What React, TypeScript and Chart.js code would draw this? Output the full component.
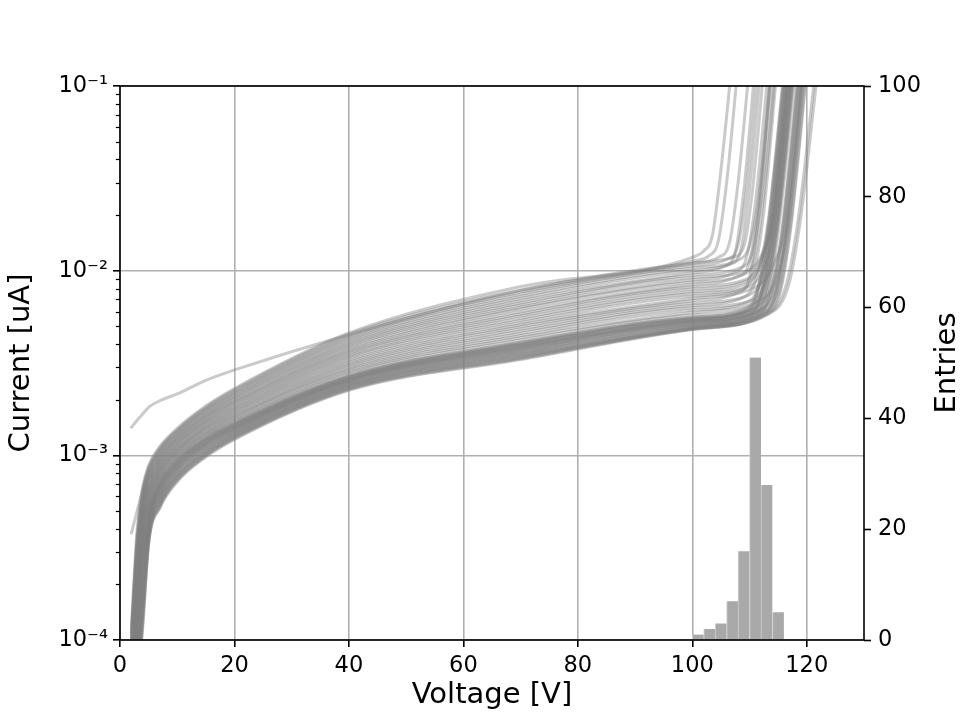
import React, { useEffect, useRef } from 'react';
import { Chart, registerables } from 'chart.js';

Chart.register(...registerables);

// Voltage grid (V) for the low-voltage part of every I-V curve
const VOLTAGES_LOW = [2, 3, 4, 5, 7, 10, 15, 20, 40, 70, 100];

// Leakage current in nA at VOLTAGES_LOW, one row per sensor
const CURRENTS_NA = [
  [0.12, 0.40, 0.68, 0.88, 1.12, 1.40, 1.85, 2.30, 4.6, 8.2, 11.8],
  [0.38, 0.50, 0.662, 0.861, 1.10, 1.376, 1.82, 2.265, 4.51, 7.87, 11.28],
  [0.112, 0.368, 0.646, 0.842, 1.082, 1.357, 1.79, 2.22, 4.41, 7.65, 10.94],
  [0.108, 0.353, 0.628, 0.822, 1.063, 1.336, 1.766, 2.19, 4.32, 7.46, 10.62],
  [0.104, 0.338, 0.613, 0.804, 1.043, 1.315, 1.738, 2.15, 4.23, 7.26, 10.33],
  [0.101, 0.324, 0.596, 0.785, 1.027, 1.293, 1.71, 2.11, 4.14, 7.06, 10.03],
  [0.097, 0.311, 0.581, 0.769, 1.008, 1.276, 1.68, 2.08, 4.05, 6.87, 9.73],
  [0.094, 0.298, 0.565, 0.752, 0.989, 1.255, 1.655, 2.04, 3.97, 6.68, 9.46],
  [0.091, 0.286, 0.551, 0.735, 0.973, 1.235, 1.63, 2.01, 3.89, 6.51, 9.19],
  [0.0875, 0.274, 0.536, 0.718, 0.955, 1.218, 1.61, 1.97, 3.80, 6.33, 8.92],
  [0.085, 0.26, 0.52, 0.70, 0.94, 1.20, 1.58, 1.94, 3.72, 6.2, 8.67],
  [0.082, 0.252, 0.508, 0.686, 0.923, 1.18, 1.556, 1.91, 3.64, 5.99, 8.42],
  [0.079, 0.242, 0.495, 0.672, 0.906, 1.161, 1.53, 1.875, 3.57, 5.83, 8.19],
  [0.076, 0.232, 0.482, 0.656, 0.89, 1.145, 1.51, 1.84, 3.49, 5.69, 7.95],
  [0.073, 0.222, 0.469, 0.641, 0.874, 1.127, 1.486, 1.81, 3.42, 5.53, 7.71],
  [0.071, 0.213, 0.457, 0.627, 0.86, 1.109, 1.461, 1.78, 3.35, 5.38, 7.5],
  [0.069, 0.204, 0.445, 0.613, 0.844, 1.091, 1.439, 1.75, 3.27, 5.23, 7.28],
  [0.066, 0.196, 0.433, 0.60, 0.829, 1.075, 1.415, 1.72, 3.20, 5.09, 7.07],
  [0.064, 0.188, 0.422, 0.586, 0.815, 1.058, 1.396, 1.69, 3.13, 4.97, 6.87],
  [0.062, 0.18, 0.41, 0.573, 0.80, 1.041, 1.374, 1.66, 3.07, 4.83, 6.67],
  [0.06, 0.173, 0.40, 0.56, 0.79, 1.03, 1.35, 1.63, 3.0, 4.7, 6.48],
  [0.058, 0.166, 0.389, 0.547, 0.773, 1.011, 1.33, 1.61, 2.94, 4.57, 6.3],
  [0.056, 0.159, 0.379, 0.535, 0.759, 0.995, 1.309, 1.58, 2.88, 4.44, 6.11],
  [0.054, 0.152, 0.369, 0.523, 0.745, 0.979, 1.291, 1.55, 2.82, 4.33, 5.93],
  [0.052, 0.146, 0.359, 0.511, 0.733, 0.965, 1.27, 1.53, 2.76, 4.21, 5.76],
  [0.05, 0.14, 0.35, 0.50, 0.72, 0.95, 1.25, 1.50, 2.7, 4.1, 5.6],
  [0.048, 0.134, 0.335, 0.492, 0.711, 0.94, 1.238, 1.488, 2.68, 4.06, 5.56],
  [0.046, 0.129, 0.321, 0.484, 0.701, 0.929, 1.226, 1.476, 2.66, 4.03, 5.52],
  [0.045, 0.124, 0.308, 0.476, 0.693, 0.919, 1.214, 1.463, 2.64, 3.99, 5.48],
  [0.043, 0.119, 0.295, 0.468, 0.683, 0.909, 1.203, 1.45, 2.62, 3.96, 5.44],
  [0.042, 0.114, 0.28, 0.46, 0.675, 0.90, 1.19, 1.44, 2.6, 3.92, 5.4],
  [0.040, 0.109, 0.271, 0.452, 0.666, 0.889, 1.179, 1.427, 2.58, 3.89, 5.37],
  [0.0387, 0.105, 0.259, 0.445, 0.657, 0.88, 1.168, 1.416, 2.565, 3.86, 5.33],
  [0.0373, 0.101, 0.249, 0.438, 0.649, 0.869, 1.156, 1.404, 2.55, 3.83, 5.3],
  [0.036, 0.097, 0.238, 0.431, 0.641, 0.86, 1.145, 1.392, 2.53, 3.79, 5.26],
  [0.035, 0.093, 0.228, 0.42, 0.63, 0.85, 1.135, 1.38, 2.51, 3.76, 5.22],
  [0.033, 0.088, 0.216, 0.415, 0.62, 0.84, 1.12, 1.37, 2.49, 3.72, 5.18],
  [0.032, 0.084, 0.205, 0.41, 0.61, 0.83, 1.11, 1.35, 2.47, 3.68, 5.13],
  [0.03, 0.08, 0.194, 0.40, 0.60, 0.816, 1.09, 1.34, 2.44, 3.64, 5.08],
  [0.029, 0.075, 0.184, 0.39, 0.59, 0.805, 1.08, 1.325, 2.42, 3.6, 5.04],
  [0.028, 0.072, 0.175, 0.38, 0.58, 0.79, 1.07, 1.31, 2.4, 3.56, 5.0],
  [0.026, 0.068, 0.166, 0.374, 0.574, 0.78, 1.05, 1.30, 2.38, 3.52, 4.96],
  [0.025, 0.065, 0.157, 0.366, 0.564, 0.772, 1.04, 1.284, 2.36, 3.48, 4.91],
  [0.024, 0.061, 0.149, 0.359, 0.555, 0.762, 1.029, 1.27, 2.335, 3.44, 4.87],
  [0.023, 0.058, 0.141, 0.35, 0.546, 0.75, 1.016, 1.26, 2.31, 3.41, 4.85],
  [0.022, 0.055, 0.133, 0.343, 0.537, 0.74, 1.004, 1.245, 2.29, 3.37, 4.83],
  [0.021, 0.052, 0.126, 0.336, 0.528, 0.73, 0.992, 1.232, 2.27, 3.33, 4.81],
  [0.02, 0.05, 0.12, 0.33, 0.52, 0.72, 0.98, 1.22, 2.25, 3.3, 4.8],
  [1.42, 1.55, 1.68, 1.82, 1.98, 2.15, 2.55, 2.9, 4.5, 7.8, 11.0],
];

// Breakdown part of each curve: [voltage V, current nA] pairs above 100 V
const TAILS = [
  [[102, 12.8], [103.5, 15.5], [105, 35], [107, 140]],
  [[103, 12.1], [104.5, 14.3], [106, 30], [108, 130]],
  [[104.5, 11.8], [106.5, 14.2], [108, 30], [110, 130]],
  [[106, 11.5], [108, 13.8], [109.5, 28], [111.5, 130]],
  [[108, 11.4], [110, 13.7], [111.5, 24], [113.8, 125]],
  [[106.5, 10.8], [108.5, 13], [110, 28], [112, 130]],
  [[105.5, 10.5], [107.5, 12.6], [109, 27], [111, 130]],
  [[108.5, 10.4], [110.5, 12.6], [112, 24], [114.3, 125]],
  [[110, 10.1], [112.5, 12.9], [114.2, 19], [117, 120]],
  [[107.5, 9.8], [109.5, 11.9], [111, 23], [113.3, 125]],
  [[108.8, 9.5], [110.8, 11.5], [112.3, 23], [114.6, 125]],
  [[108, 9.3], [110, 11.2], [111.5, 22], [113.8, 125]],
  [[109.5, 9.0], [112, 11.5], [113.8, 18], [116.6, 120]],
  [[109, 8.7], [111, 10.6], [112.5, 21], [114.8, 125]],
  [[109.5, 8.5], [112, 10.8], [114, 18], [116.8, 120]],
  [[110.1, 8.25], [112.6, 10.5], [114.6, 18], [117.4, 120]],
  [[109, 8.0], [111.5, 10.2], [113.5, 18], [116.3, 120]],
  [[112, 8.5], [114.3, 11], [116.2, 17], [119, 120]],
  [[108, 7.6], [110, 9.2], [111.5, 19], [113.8, 125]],
  [[109.8, 7.35], [112.3, 9.3], [114.3, 18], [117.1, 120]],
  [[108.7, 7.1], [111.2, 9.1], [113.2, 18], [116, 120]],
  [[110.4, 6.9], [112.9, 8.8], [114.9, 18], [117.7, 120]],
  [[109.3, 6.7], [111.8, 8.55], [113.8, 18], [116.6, 120]],
  [[112.5, 7.1], [114.8, 9.2], [116.7, 17], [119.5, 120]],
  [[110, 6.35], [112.5, 8.1], [114.5, 18], [117.3, 120]],
  [[108.9, 6.15], [111.4, 7.85], [113.4, 18], [116.2, 120]],
  [[109.7, 6.1], [112.2, 7.8], [114.2, 18], [117, 120]],
  [[110.3, 6.1], [112.8, 7.7], [114.8, 18], [117.6, 120]],
  [[109.2, 6.0], [111.7, 7.7], [113.7, 18], [116.5, 120]],
  [[109.9, 6.0], [112.4, 7.6], [114.4, 18], [117.2, 120]],
  [[108.8, 5.95], [111.3, 7.55], [113.3, 18], [116.1, 120]],
  [[111.6, 6.45], [113.9, 8.3], [115.8, 17], [118.6, 120]],
  [[110.5, 5.85], [113, 7.45], [115, 18], [117.8, 120]],
  [[109.6, 5.85], [112.1, 7.4], [114.1, 18], [116.9, 120]],
  [[110.2, 5.8], [112.7, 7.35], [114.7, 18], [117.5, 120]],
  [[112.3, 6.25], [114.6, 8.1], [116.5, 17], [119.3, 120]],
  [[109.4, 5.7], [111.9, 7.25], [113.9, 18], [116.7, 120]],
  [[111.7, 6.15], [114, 7.95], [115.9, 17], [118.7, 120]],
  [[110.7, 5.6], [113.2, 7.1], [115.2, 18], [118, 120]],
  [[112.6, 6.05], [114.9, 7.8], [116.8, 17], [119.6, 120]],
  [[112, 6.0], [114.3, 7.75], [116.2, 17], [119, 120]],
  [[112.9, 5.95], [115.2, 7.7], [117.1, 17], [119.9, 120]],
  [[111.5, 5.9], [113.8, 7.6], [115.7, 17], [118.5, 120]],
  [[112.4, 5.85], [114.7, 7.55], [116.6, 17], [119.4, 120]],
  [[113, 5.8], [115.3, 7.5], [117.2, 17], [120, 120]],
  [[114, 6.1], [116.5, 8.6], [118.5, 19], [121.5, 120]],
  [[112.2, 5.75], [114.5, 7.45], [116.4, 17], [119.2, 120]],
  [[114.4, 6.1], [116.9, 8.5], [118.9, 19], [121.9, 120]],
  [[107, 11.8], [109, 13.5], [110.5, 27], [112.5, 125]],
];

// Histogram of breakdown voltages (2 V bins)
const HIST_BIN_CENTERS = [101, 103, 105, 107, 109, 111, 113, 115];
const HIST_COUNTS = [1, 2, 3, 7, 16, 51, 28, 5];

// Axis ticks
const X_TICKS = [0, 20, 40, 60, 80, 100, 120];
const Y_MAJOR_TICKS = [1e-4, 1e-3, 1e-2, 1e-1];
const Y_MAJOR_LABELS = ['10⁻⁴', '10⁻³', '10⁻²', '10⁻¹'];
const Y_MINOR_FACTORS = [2, 3, 4, 5, 6, 7, 8, 9];
const ENTRIES_TICKS = [0, 20, 40, 60, 80, 100];

const FONT = '"DejaVu Sans", sans-serif';
const TICK_FONT = { family: FONT, size: 22.5, lineHeight: 1 };
const LABEL_FONT = { family: FONT, size: 29, lineHeight: 1 };

const framePlugin = {
  id: 'frame',
  afterDraw(chart: any) {
    const { ctx, chartArea: a } = chart;
    const y = chart.scales.y;
    ctx.save();
    ctx.strokeStyle = '#000';
    ctx.lineWidth = 1.2;
    for (const t of y.ticks) {
      if (t.major) continue;
      const py = Math.round(y.getPixelForValue(t.value)) + 0.5;
      ctx.beginPath();
      ctx.moveTo(a.left - 4.2, py);
      ctx.lineTo(a.left, py);
      ctx.stroke();
    }
    ctx.lineWidth = 1.6;
    ctx.strokeRect(a.left, a.top, a.right - a.left, a.bottom - a.top);
    ctx.translate(947, (a.top + a.bottom) / 2);
    ctx.rotate(-Math.PI / 2);
    ctx.font = `29px ${FONT}`;
    ctx.fillStyle = '#000';
    ctx.textAlign = 'center';
    ctx.textBaseline = 'middle';
    ctx.fillText('Entries', 0, 0);
    ctx.restore();
  },
};

export default function App() {
  const ref = useRef<HTMLCanvasElement | null>(null);

  useEffect(() => {
    if (!ref.current) return;
    const lineSets = CURRENTS_NA.map((row, i) => {
      const pts = VOLTAGES_LOW.map((v, j) => ({ x: v, y: row[j] * 1e-3 }));
      TAILS[i].forEach(([v, c]) => pts.push({ x: v, y: c * 1e-3 }));
      return {
        type: 'line' as const,
        data: pts,
        xAxisID: 'x',
        yAxisID: 'y',
        borderColor: 'rgba(128,128,128,0.42)',
        borderWidth: 3,
        borderJoinStyle: 'round' as const,
        borderCapStyle: 'round' as const,
        pointRadius: 0,
        fill: false,
        cubicInterpolationMode: 'monotone' as const,
        clip: 0,
        order: 1,
      };
    });
    const histSet = {
      type: 'bar' as const,
      data: HIST_BIN_CENTERS.map((c, i) => ({ x: c, y: HIST_COUNTS[i] })),
      xAxisID: 'x',
      yAxisID: 'y1',
      backgroundColor: '#a9a9a9',
      borderColor: '#cfcfcf',
      borderWidth: { left: 1, right: 0, top: 0, bottom: 0 },
      borderSkipped: false,
      barPercentage: 1,
      categoryPercentage: 1,
      grouped: false,
      order: 0,
    };

    const chart = new Chart(ref.current, {
      type: 'line',
      data: { datasets: [...lineSets, histSet] as any },
      plugins: [framePlugin],
      options: {
        responsive: false,
        animation: false,
        events: [],
        layout: { padding: { top: 86, left: 0, right: 0, bottom: 0 } },
        plugins: { legend: { display: false }, tooltip: { enabled: false } },
        scales: {
          x: {
            type: 'linear',
            min: 0,
            max: 130,
            offset: false,
            afterBuildTicks: (s: any) => {
              s.ticks = X_TICKS.map((v) => ({ value: v }));
            },
            afterFit: (s: any) => {
              s.height = 80;
            },
            border: { display: false },
            grid: {
              offset: false,
              color: '#b0b0b0',
              lineWidth: 1.6,
              tickColor: '#000',
              tickLength: 7,
              tickWidth: 1.6,
            },
            ticks: {
              autoSkip: false,
              maxRotation: 0,
              padding: 8,
              color: '#000',
              font: TICK_FONT,
            },
            title: {
              display: true,
              text: 'Voltage [V]',
              color: '#000',
              font: LABEL_FONT,
              padding: { top: 0, bottom: 10 },
            },
          },
          y: {
            type: 'logarithmic',
            position: 'left',
            min: 1e-4,
            max: 1e-1,
            afterBuildTicks: (s: any) => {
              const ticks: any[] = [];
              Y_MAJOR_TICKS.forEach((m, i) => {
                ticks.push({ value: m, major: true });
                if (i < Y_MAJOR_TICKS.length - 1) {
                  Y_MINOR_FACTORS.forEach((f) => ticks.push({ value: m * f, major: false }));
                }
              });
              s.ticks = ticks;
            },
            afterFit: (s: any) => {
              s.width = 120;
            },
            border: { display: false },
            grid: {
              color: (c: any) => (c.tick && c.tick.major ? '#b0b0b0' : 'rgba(0,0,0,0)'),
              lineWidth: 1.6,
              tickColor: (c: any) => (c.tick && c.tick.major ? '#000' : 'rgba(0,0,0,0)'),
              tickLength: 7,
              tickWidth: 1.6,
            },
            ticks: {
              autoSkip: false,
              padding: 5,
              color: '#000',
              font: TICK_FONT,
              callback: (value: any) => {
                const idx = Y_MAJOR_TICKS.findIndex((m) => Math.abs(m - Number(value)) / m < 1e-6);
                return idx >= 0 ? Y_MAJOR_LABELS[idx] : '';
              },
            },
            title: {
              display: true,
              text: 'Current [uA]',
              color: '#000',
              font: LABEL_FONT,
              padding: { top: 7, bottom: 0 },
            },
          },
          y1: {
            type: 'linear',
            position: 'right',
            min: 0,
            max: 100,
            afterBuildTicks: (s: any) => {
              s.ticks = ENTRIES_TICKS.map((v) => ({ value: v }));
            },
            afterFit: (s: any) => {
              s.width = 96;
            },
            border: { display: false },
            grid: {
              drawOnChartArea: false,
              color: '#000',
              tickColor: '#000',
              tickLength: 7,
              tickWidth: 1.6,
            },
            ticks: {
              autoSkip: false,
              padding: 7,
              color: '#000',
              font: TICK_FONT,
            },
            title: { display: false },
          },
        },
      } as any,
    });
    return () => chart.destroy();
  }, []);

  return (
    <div style={{ position: 'fixed', left: 0, top: 0, width: 960, height: 720, background: '#fff' }}>
      <canvas ref={ref} width={960} height={720} style={{ display: 'block' }} />
    </div>
  );
}
